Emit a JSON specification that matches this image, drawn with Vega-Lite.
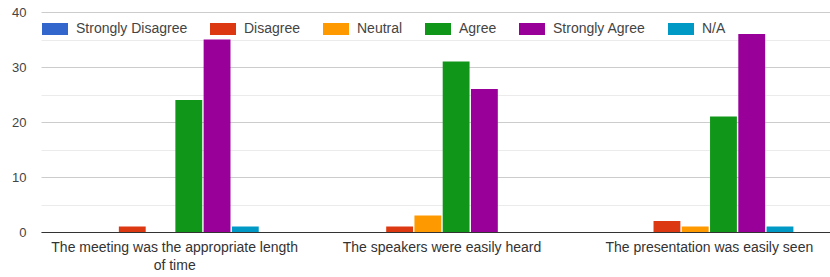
{
  "$schema": "https://vega.github.io/schema/vega-lite/v6.json",
  "width": 789,
  "height": 220,
  "autosize": {"type": "none"},
  "padding": {"left": 41, "top": 12, "right": 0, "bottom": 45},
  "background": "white",
  "config": {"font": "Liberation Sans", "view": {"stroke": null}},
  "data": {
    "values": [
      {"question": "The meeting was the appropriate length of time", "response": "Strongly Disagree", "count": 0},
      {"question": "The meeting was the appropriate length of time", "response": "Disagree", "count": 1},
      {"question": "The meeting was the appropriate length of time", "response": "Neutral", "count": 0},
      {"question": "The meeting was the appropriate length of time", "response": "Agree", "count": 24},
      {"question": "The meeting was the appropriate length of time", "response": "Strongly Agree", "count": 35},
      {"question": "The meeting was the appropriate length of time", "response": "N/A", "count": 1},
      {"question": "The speakers were easily heard", "response": "Strongly Disagree", "count": 0},
      {"question": "The speakers were easily heard", "response": "Disagree", "count": 1},
      {"question": "The speakers were easily heard", "response": "Neutral", "count": 3},
      {"question": "The speakers were easily heard", "response": "Agree", "count": 31},
      {"question": "The speakers were easily heard", "response": "Strongly Agree", "count": 26},
      {"question": "The speakers were easily heard", "response": "N/A", "count": 0},
      {"question": "The presentation was easily seen", "response": "Strongly Disagree", "count": 0},
      {"question": "The presentation was easily seen", "response": "Disagree", "count": 2},
      {"question": "The presentation was easily seen", "response": "Neutral", "count": 1},
      {"question": "The presentation was easily seen", "response": "Agree", "count": 21},
      {"question": "The presentation was easily seen", "response": "Strongly Agree", "count": 36},
      {"question": "The presentation was easily seen", "response": "N/A", "count": 1}
    ]
  },
  "mark": {"type": "bar"},
  "encoding": {
    "x": {
      "field": "question",
      "type": "nominal",
      "sort": ["The meeting was the appropriate length of time", "The speakers were easily heard", "The presentation was easily seen"],
      "scale": {"range": [0, 802], "paddingInner": 0.371, "paddingOuter": 0.1855},
      "axis": {
        "title": null,
        "labelAngle": 0,
        "ticks": false,
        "grid": false,
        "domainColor": "#333333",
        "domainWidth": 1,
        "labelPadding": 8,
        "labelFontSize": 14,
        "labelColor": "#333333",
        "labelLineHeight": 18,
        "labelLimit": 0,
        "labelExpr": "datum.label == 'The meeting was the appropriate length of time' ? ['The meeting was the appropriate length', 'of time'] : datum.label"
      }
    },
    "xOffset": {
      "field": "response",
      "type": "nominal",
      "sort": ["Strongly Disagree", "Disagree", "Neutral", "Agree", "Strongly Agree", "N/A"],
      "scale": {"paddingInner": 0.05, "paddingOuter": 0}
    },
    "y": {
      "field": "count",
      "type": "quantitative",
      "scale": {"domain": [0, 40], "nice": false},
      "axis": {
        "title": null,
        "values": [0, 5, 10, 15, 20, 25, 30, 35, 40],
        "labelExpr": "datum.value % 10 === 0 ? datum.label : ''",
        "gridColor": {"condition": {"test": "datum.value % 10 === 0", "value": "#cccccc"}, "value": "#ebebeb"},
        "domain": false,
        "ticks": false,
        "labelPadding": 15,
        "labelFontSize": 13,
        "labelColor": "#444444"
      }
    },
    "color": {
      "field": "response",
      "type": "nominal",
      "sort": ["Strongly Disagree", "Disagree", "Neutral", "Agree", "Strongly Agree", "N/A"],
      "scale": {
        "domain": ["Strongly Disagree", "Disagree", "Neutral", "Agree", "Strongly Agree", "N/A"],
        "range": ["#3366cc", "#dc3912", "#ff9900", "#109618", "#990099", "#0099c6"]
      },
      "legend": {
        "orient": "none",
        "legendX": 1,
        "legendY": 4,
        "direction": "horizontal",
        "columns": 6,
        "title": null,
        "symbolType": "M-1,-0.46H1V0.46H-1Z",
        "symbolSize": 676,
        "symbolStrokeWidth": 0,
        "symbolOpacity": 1,
        "labelFontSize": 14,
        "labelColor": "#444444",
        "labelOffset": 8,
        "columnPadding": 22,
        "padding": 0
      }
    }
  }
}
